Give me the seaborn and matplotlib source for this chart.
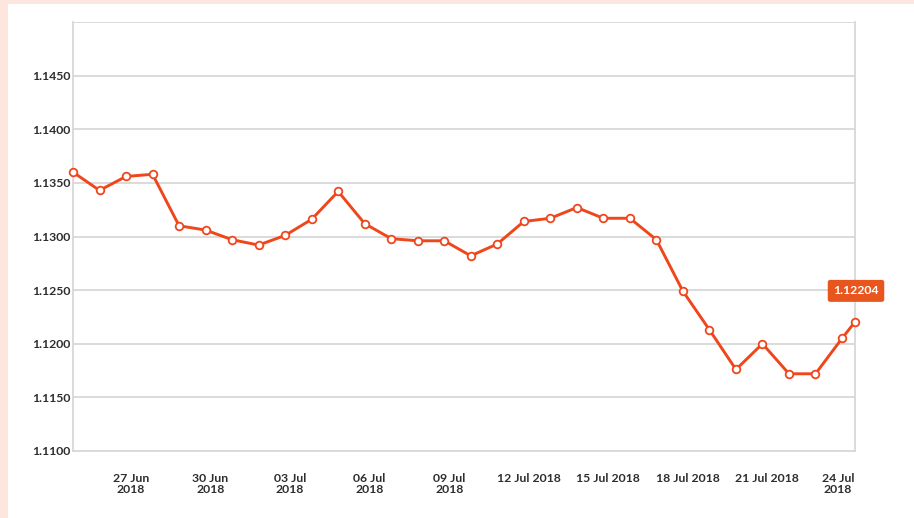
import matplotlib
matplotlib.use("Agg")
import matplotlib.pyplot as plt
import matplotlib.transforms as mtransforms
from matplotlib.patches import Rectangle
import seaborn as sns
import pandas as pd

# ---- data ----
dates = pd.date_range("2018-06-24 19:30", periods=30, freq="D").strftime("%Y-%m-%d %H:%M").tolist() + ["2018-07-24 07:15"]
rates = [1.1360, 1.1343, 1.1356, 1.1358, 1.1310, 1.1306, 1.1297, 1.1292, 1.1301, 1.1316,
         1.1342, 1.1312, 1.1298, 1.1296, 1.1296, 1.1282, 1.1293, 1.1314, 1.1317, 1.1327,
         1.1317, 1.1317, 1.1297, 1.1249, 1.1213, 1.1176, 1.1200, 1.1172, 1.1172, 1.1205,
         1.12204]
last_label = "1.12204"
tick_dates = ["2018-06-27", "2018-06-30", "2018-07-03", "2018-07-06", "2018-07-09",
              "2018-07-12", "2018-07-15", "2018-07-18", "2018-07-21", "2018-07-24"]
tick_labels = ["27 Jun\n2018", "30 Jun\n2018", "03 Jul\n2018", "06 Jul\n2018", "09 Jul\n2018",
               "12 Jul 2018", "15 Jul 2018", "18 Jul 2018", "21 Jul 2018", "24 Jul\n2018"]
y_ticks = [1.1100, 1.1150, 1.1200, 1.1250, 1.1300, 1.1350, 1.1400, 1.1450, 1.1500]
y_labels = ["1.1100", "1.1150", "1.1200", "1.1250", "1.1300", "1.1350", "1.1400", "1.1450", ""]

df = pd.DataFrame({"date": pd.to_datetime(dates), "rate": rates})

sns.set_theme(style="white")
plt.rcParams["font.family"] = ["Lato", "DejaVu Sans"]

LINE = "#f0461c"
BOX = "#e9561d"
GRID = "#d8d8d8"
TXT = "#2e2e2e"

W, H = 914, 518
fig = plt.figure(figsize=(W / 100, H / 100), dpi=100, facecolor="#fde6dd")
bg = Rectangle((8 / W, 0), 1, (H - 4) / H, transform=fig.transFigure,
               facecolor="white", edgecolor="none", zorder=-10)
fig.patches.append(bg)
ax = fig.add_axes([73 / W, 1 - 451 / H, (855 - 73) / W, (451 - 22) / H])
ax.set_zorder(1)
ax.set_facecolor("white")

sns.lineplot(data=df, x="date", y="rate", ax=ax, color=LINE, linewidth=2.1,
             marker="o", markersize=5.5, markerfacecolor="white",
             markeredgecolor=LINE, markeredgewidth=1.3, zorder=3, clip_on=False)

ax.set_xlim(df["date"].iloc[0], df["date"].iloc[-1])
ax.set_ylim(1.1100, 1.1500)
ax.set_yticks(y_ticks)
ax.set_yticklabels(y_labels)
ax.set_xticks(pd.to_datetime(tick_dates))
ax.set_xticklabels(tick_labels, linespacing=1.05)

ax.grid(axis="y", color=GRID, linewidth=1.3)
ax.grid(axis="x", visible=False)
for side in ["left", "bottom", "right"]:
    ax.spines[side].set_visible(True)
    ax.spines[side].set_color(GRID)
    ax.spines[side].set_linewidth(1.3)
ax.spines["top"].set_visible(False)

ax.tick_params(axis="y", length=0, pad=2, labelsize=8.8, labelcolor=TXT)
ax.tick_params(axis="x", length=7, width=1.3, color=LINE, direction="out", pad=8.5,
               labelsize=8.8, labelcolor=TXT)
for lbl in ax.get_yticklabels() + ax.get_xticklabels():
    lbl.set_fontweight("bold")

# shift the last x label left so it stays inside the panel
last = ax.get_xticklabels()[-1]
last.set_transform(last.get_transform() + mtransforms.ScaledTranslation(-9 / 100, 0, fig.dpi_scale_trans))

ax.set_xlabel("")
ax.set_ylabel("")

ax.annotate(last_label, xy=(df["date"].iloc[-1], rates[-1]), xytext=(1, 31),
            textcoords="offset pixels", ha="center", va="center", color="white",
            fontsize=8.8, fontweight="bold", annotation_clip=False,
            bbox=dict(boxstyle="round,pad=0.45,rounding_size=0.2", facecolor=BOX,
                      edgecolor="none"), zorder=5)

fig.savefig("out.png", dpi=100, facecolor=fig.get_facecolor())
